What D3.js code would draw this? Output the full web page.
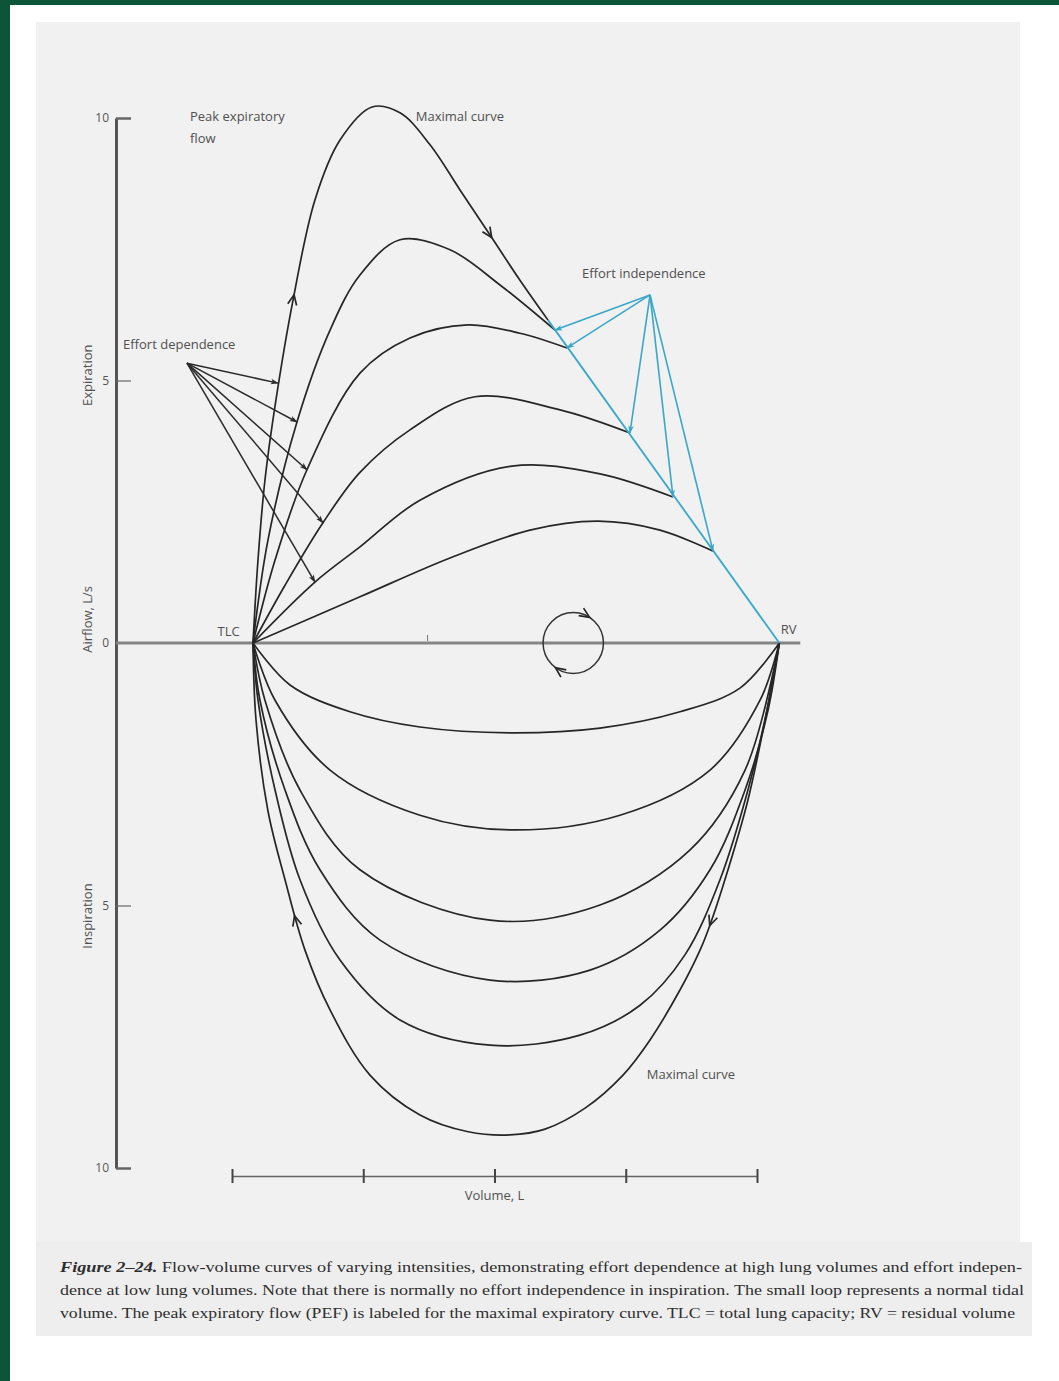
<!DOCTYPE html>
<html>
<head>
<meta charset="utf-8">
<script src="https://cdn.jsdelivr.net/npm/d3@7"></script>
<style>
  html, body { margin: 0; padding: 0; background: #0c5538; }
  svg { display: block; }
  .lbl { font-family: "Open Sans", "Liberation Sans", sans-serif; font-size: 13px; fill: #505050; }
  .cap { font-family: "Liberation Serif", "DejaVu Serif", serif; font-size: 15.5px; fill: #2e2e2e; }
</style>
</head>
<body>
<svg id="chart"></svg>
<script>
// ---- data (volume in L, airflow in L/s; expiration positive) ----
const volTicks = [0, 1, 2, 3, 4];
const flowTicks = [10, 5, 0, -5, -10];
const tlcVol = 0.16;
const rvVol = 4.17;

// expiratory curves, strongest effort first
const expA = [[0.16,0],[0.198,1.58],[0.251,3.1],[0.335,4.63],[0.465,6.53],[0.632,8.44],[0.823,9.58],[1.067,10.21],[1.28,10.1],[1.509,9.49],[1.737,8.63],[1.966,7.77],[2.194,6.91],[2.408,6.15]];
const expB = [[0.16,0],[0.274,1.96],[0.495,4.21],[0.747,5.96],[0.975,7.01],[1.28,7.68],[1.661,7.49],[2.042,6.82],[2.461,5.96]];
const expC = [[0.16,0],[0.328,1.58],[0.571,3.3],[0.975,5.14],[1.356,5.81],[1.798,6.06],[2.194,5.9],[2.552,5.62]];
const expD = [[0.16,0],[0.404,1.1],[0.693,2.29],[0.975,3.25],[1.356,4.06],[1.851,4.69],[2.499,4.44],[3.032,4.0]];
const expE = [[0.16,0],[0.632,1.16],[0.975,1.83],[1.432,2.72],[2.133,3.37],[2.804,3.22],[3.36,2.78]];
const expF = [[0.16,0],[0.975,0.88],[1.661,1.62],[2.27,2.15],[2.789,2.32],[3.261,2.15],[3.665,1.75]];
const expCurves = [expA, expB, expC, expD, expE, expF];

// effort-independent segment of the maximal curve
const envelope = [[2.408,6.15],[4.17,0]];

// inspiratory curves, weakest effort first
const insp1 = [[0.16,0],[0.442,-0.8],[0.899,-1.31],[1.432,-1.6],[2.118,-1.71],[2.804,-1.62],[3.413,-1.31],[3.87,-0.86],[4.17,0]];
const insp2 = [[0.16,0],[0.328,-1.09],[0.747,-2.42],[1.432,-3.28],[2.118,-3.56],[2.956,-3.28],[3.642,-2.42],[4.023,-1.09],[4.17,0]];
const insp3 = [[0.16,0],[0.251,-1.09],[0.518,-2.8],[0.975,-4.32],[1.966,-5.28],[2.804,-4.99],[3.49,-3.94],[3.909,-2.42],[4.17,0]];
const insp4 = [[0.16,0],[0.213,-1.09],[0.404,-2.8],[0.67,-4.32],[1.128,-5.66],[1.966,-6.42],[2.728,-6.23],[3.261,-5.47],[3.642,-4.32],[3.909,-2.8],[4.084,-1.28],[4.17,0]];
const insp5 = [[0.16,0],[0.198,-1.09],[0.328,-2.8],[0.518,-4.51],[0.823,-6.04],[1.28,-7.18],[1.966,-7.66],[2.651,-7.47],[3.109,-6.9],[3.451,-5.94],[3.718,-4.51],[3.931,-2.8],[4.076,-1.28],[4.17,0]];
const insp6 = [[0.16,0],[0.183,-1.47],[0.274,-3.2],[0.404,-4.51],[0.556,-5.85],[0.747,-6.99],[1.051,-8.23],[1.432,-8.99],[1.8,-9.31],[2.118,-9.37],[2.385,-9.26],[2.69,-8.86],[2.979,-8.23],[3.185,-7.56],[3.413,-6.61],[3.566,-5.85],[3.642,-5.37],[3.779,-4.32],[3.931,-2.99],[4.061,-1.47],[4.17,0]];
const inspCurves = [insp1, insp2, insp3, insp4, insp5, insp6];

// effort dependence arrows (from label point to curves)
const depFrom = [-0.343, 5.33];
const depTo = [[0.35,4.95],[0.495,4.21],[0.571,3.3],[0.693,2.29],[0.632,1.16]];
// effort independence arrows
const indFrom = [3.185, 6.63];
const indTo = [[2.461,5.96],[2.552,5.62],[3.032,4.0],[3.36,2.78],[3.665,1.75]];

// normal tidal loop
const tidalVol = 2.6, tidalHalfVol = 0.23, tidalFlow = 0.58;

const captionLines = [
  ["Figure 2\u201324.", " Flow-volume curves of varying intensities, demonstrating effort dependence at high lung volumes and effort indepen-"],
  ["", "dence at low lung volumes. Note that there is normally no effort independence in inspiration. The small loop represents a normal tidal"],
  ["", "volume. The peak expiratory flow (PEF) is labeled for the maximal expiratory curve. TLC = total lung capacity; RV = residual volume"]
];

// ---- drawing ----
const W = 1059, H = 1381;
const svg = d3.select('#chart').attr('width', W).attr('height', H);

svg.append('rect').attr('x', 10).attr('y', 5).attr('width', W - 10).attr('height', H - 5).attr('fill', '#fff');
svg.append('rect').attr('x', 36).attr('y', 22).attr('width', 984).attr('height', 1220).attr('fill', '#f1f1f1');
svg.append('rect').attr('x', 36).attr('y', 1242).attr('width', 996).attr('height', 94).attr('fill', '#eeeeee');

const x = d3.scaleLinear().domain([0, 4]).range([232, 757]);
const y = d3.scaleLinear().domain([-10, 10]).range([1168, 118]);
const axisX = 116;

const defs = svg.append('defs');
function marker(id, color) {
  defs.append('marker').attr('id', id)
    .attr('viewBox', '0 0 10 10').attr('refX', 9).attr('refY', 5)
    .attr('markerWidth', 10).attr('markerHeight', 8)
    .attr('markerUnits', 'userSpaceOnUse').attr('orient', 'auto')
    .append('path').attr('d', 'M0,1.5 L10,5 L0,8.5 L2.5,5 Z').attr('fill', color);
}
marker('arrK', '#2a2a2a');
marker('arrC', '#3aa7c9');

// y axis
const yAxis = svg.append('g').attr('transform', `translate(${axisX},0)`)
  .call(d3.axisLeft(y).tickValues(flowTicks).tickSizeOuter(0).tickFormat(d => Math.abs(d)));
yAxis.select('.domain').attr('stroke', '#555').attr('stroke-width', 3);
yAxis.selectAll('.tick line').attr('x1', 0).attr('x2', 15).attr('stroke', '#666')
  .attr('stroke-width', d => Math.abs(d) === 10 ? 2.5 : 1.2);
yAxis.selectAll('.tick').filter(d => d === 0).select('line').remove();
yAxis.selectAll('.tick text').attr('x', -7)
  .attr('font-family', '"Open Sans", "Liberation Sans", sans-serif')
  .attr('font-size', 12).attr('fill', '#555');

// y axis titles
function vtitle(txt, cx, cy) {
  svg.append('text').attr('class', 'lbl')
    .attr('transform', `translate(${cx},${cy}) rotate(-90)`)
    .attr('text-anchor', 'middle').attr('font-size', 12).text(txt);
}
vtitle('Expiration', 92, y(5.1));
vtitle('Airflow, L/s', 92, y(0.45));
vtitle('Inspiration', 92, y(-5.2));

// zero line
svg.append('line').attr('x1', axisX).attr('x2', x(4.33)).attr('y1', y(0)).attr('y2', y(0))
  .attr('stroke', '#858585').attr('stroke-width', 3);
svg.append('line').attr('x1', x(1.49)).attr('x2', x(1.49)).attr('y1', y(0) - 8).attr('y2', y(0) - 2)
  .attr('stroke', '#777').attr('stroke-width', 1);

// x axis
const xAxisY = 1176;
const xAxis = svg.append('g').attr('transform', `translate(0,${xAxisY})`)
  .call(d3.axisBottom(x).tickValues(volTicks).tickSizeOuter(0).tickFormat(''));
xAxis.select('.domain').attr('stroke', '#666').attr('stroke-width', 1.5);
xAxis.selectAll('.tick line').attr('y1', -7).attr('y2', 7).attr('stroke', '#444').attr('stroke-width', 2);
svg.append('text').attr('class', 'lbl').attr('x', x(2)).attr('y', xAxisY + 24)
  .attr('text-anchor', 'middle').attr('font-size', 12).text('Volume, L');

// curves
const smooth = d3.line().x(d => x(d[0])).y(d => y(d[1])).curve(d3.curveCatmullRom.alpha(0.5));
const straight = d3.line().x(d => x(d[0])).y(d => y(d[1]));

const curveG = svg.append('g').attr('fill', 'none').attr('stroke', '#262626').attr('stroke-width', 1.7);
const expPaths = curveG.selectAll('path.exp').data(expCurves).join('path').attr('class', 'exp').attr('d', smooth);
const inspPaths = curveG.selectAll('path.insp').data(inspCurves).join('path').attr('class', 'insp').attr('d', smooth);

svg.append('path').attr('d', straight(envelope)).attr('fill', 'none')
  .attr('stroke', '#3aa7c9').attr('stroke-width', 1.8);

// effort arrows
svg.append('g').selectAll('line').data(depTo).join('line')
  .attr('x1', x(depFrom[0])).attr('y1', y(depFrom[1]))
  .attr('x2', d => x(d[0])).attr('y2', d => y(d[1]))
  .attr('stroke', '#2a2a2a').attr('stroke-width', 1.5).attr('marker-end', 'url(#arrK)');
svg.append('g').selectAll('line').data(indTo).join('line')
  .attr('x1', x(indFrom[0])).attr('y1', y(indFrom[1]))
  .attr('x2', d => x(d[0])).attr('y2', d => y(d[1]))
  .attr('stroke', '#3aa7c9').attr('stroke-width', 1.6).attr('marker-end', 'url(#arrC)');

// direction chevrons on a curve, nearest to a data point
function chevron(node, pt, dir) {
  const tx = x(pt[0]), ty = y(pt[1]);
  const L = node.getTotalLength();
  let best = 0, bd = Infinity;
  for (let s = 0; s <= L; s += 1) {
    const p = node.getPointAtLength(s);
    const d = (p.x - tx) ** 2 + (p.y - ty) ** 2;
    if (d < bd) { bd = d; best = s; }
  }
  const p0 = node.getPointAtLength(best);
  const p1 = node.getPointAtLength(Math.max(0, Math.min(L, best + dir * 4)));
  drawChevron(p0.x, p0.y, Math.atan2(p1.y - p0.y, p1.x - p0.x));
}
function drawChevron(px, py, ang) {
  const len = 11, spread = 0.42;
  const a1 = ang + Math.PI - spread, a2 = ang + Math.PI + spread;
  svg.append('path')
    .attr('d', `M${px + len * Math.cos(a1)},${py + len * Math.sin(a1)} L${px},${py} L${px + len * Math.cos(a2)},${py + len * Math.sin(a2)}`)
    .attr('fill', 'none').attr('stroke', '#262626').attr('stroke-width', 1.7);
}
chevron(expPaths.nodes()[0], [0.48, 6.63], 1);
chevron(expPaths.nodes()[0], [1.966, 7.71], 1);
chevron(inspPaths.nodes()[5], [0.503, -5.18], -1);
chevron(inspPaths.nodes()[5], [3.627, -5.37], -1);

// tidal loop
const cx = x(tidalVol), cy = y(0);
const rx = x(tidalVol + tidalHalfVol) - cx, ry = cy - y(tidalFlow);
svg.append('ellipse').attr('cx', cx).attr('cy', cy).attr('rx', rx).attr('ry', ry)
  .attr('fill', 'none').attr('stroke', '#333').attr('stroke-width', 1.5);
[-1.0, 2.2].forEach(t => {
  const px = cx + rx * Math.cos(t), py = cy + ry * Math.sin(t);
  const ang = Math.atan2(ry * Math.cos(t), -rx * Math.sin(t));
  drawChevron(px, py, ang);
});

// annotations
function label(txt, vx, fy, opts = {}) {
  svg.append('text').attr('class', 'lbl').attr('x', x(vx)).attr('y', y(fy))
    .attr('font-size', opts.size || 13).attr('fill', opts.fill || '#505050')
    .attr('text-anchor', opts.anchor || 'start').text(txt);
}
label('Peak expiratory', -0.32, 9.95);
label('flow', -0.32, 9.53);
label('Maximal curve', 1.40, 9.95);
label('Effort independence', 2.667, 6.95);
label('Effort dependence', -0.83, 5.6);
label('TLC', -0.11, 0.13, { size: 11 });
label('RV', 4.18, 0.17, { size: 11 });
label('Maximal curve', 3.16, -8.3, { size: 11, fill: '#777' });

// caption
const capLen = [962, 964, 955];
captionLines.forEach((ln, i) => {
  const t = svg.append('text').attr('class', 'cap')
    .attr('x', 60).attr('y', 1272 + i * 23)
    .attr('textLength', capLen[i]).attr('lengthAdjust', 'spacingAndGlyphs');
  if (ln[0]) t.append('tspan').attr('font-weight', 'bold').attr('font-style', 'italic').text(ln[0]);
  t.append('tspan').text(ln[1]);
});
</script>
</body>
</html>
